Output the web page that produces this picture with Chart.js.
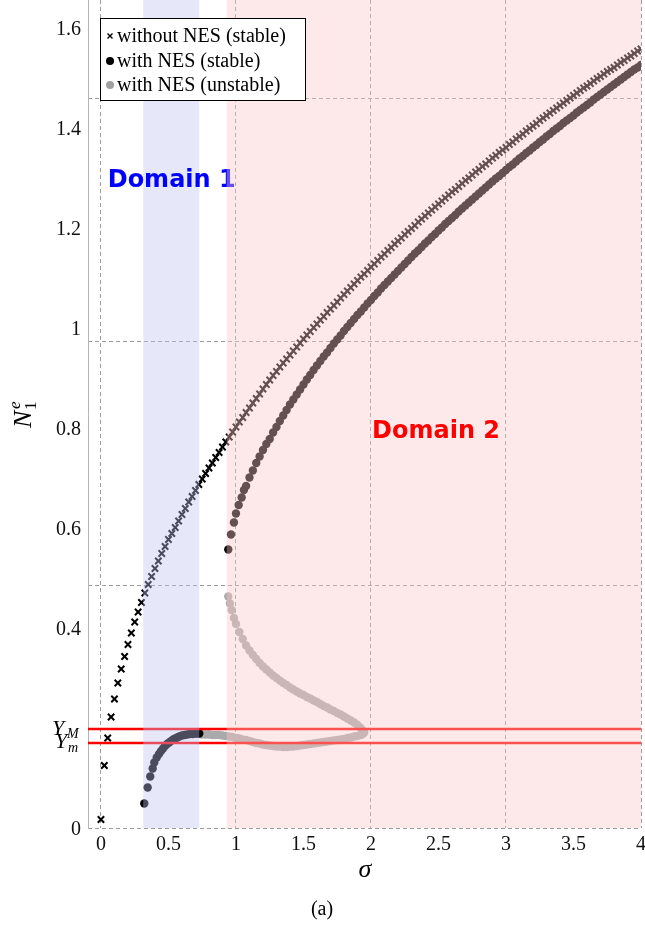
<!DOCTYPE html>
<html>
<head>
<meta charset="utf-8">
<script src="https://cdn.jsdelivr.net/npm/chart.js@4.4.0/dist/chart.umd.min.js"></script>
<style>
  html, body { margin: 0; padding: 0; background: #fff; }
  #wrap { width: 645px; height: 926px; position: relative; }
</style>
</head>
<body>
<div id="wrap"><canvas id="chart" width="645" height="926"></canvas></div>
<script>
// ---- data ----
const xTicks = [0, 0.5, 1, 1.5, 2, 2.5, 3, 3.5, 4];
const yTicks = [0, 0.4, 0.6, 0.8, 1, 1.2, 1.4, 1.6];
const yGridRows = [0, 0.486, 0.972, 1.458];
const X_MIN = -0.096, X_MAX = 4, Y_MAX = 1.656;
const Y_M = 0.198, Y_m = 0.17;
const domain1 = [0.313, 0.728];
const domain2 = [0.931, 4];

// without NES (stable)
const sigmaNoNes = [
  0, 0.025, 0.05, 0.075, 0.1, 0.125, 0.15, 0.175, 0.2, 0.225,
  0.25, 0.275, 0.3, 0.325, 0.35, 0.375, 0.4, 0.425, 0.45, 0.475,
  0.5, 0.525, 0.55, 0.575, 0.6, 0.625, 0.65, 0.675, 0.7, 0.725,
  0.75, 0.775, 0.8, 0.825, 0.85, 0.875, 0.9, 0.925, 0.95, 0.975,
  1, 1.025, 1.05, 1.075, 1.1, 1.125, 1.15, 1.175, 1.2, 1.225,
  1.25, 1.275, 1.3, 1.325, 1.35, 1.375, 1.4, 1.425, 1.45, 1.475,
  1.5, 1.525, 1.55, 1.575, 1.6, 1.625, 1.65, 1.675, 1.7, 1.725,
  1.75, 1.775, 1.8, 1.825, 1.85, 1.875, 1.9, 1.925, 1.95, 1.975,
  2, 2.025, 2.05, 2.075, 2.1, 2.125, 2.15, 2.175, 2.2, 2.225,
  2.25, 2.275, 2.3, 2.325, 2.35, 2.375, 2.4, 2.425, 2.45, 2.475,
  2.5, 2.525, 2.55, 2.575, 2.6, 2.625, 2.65, 2.675, 2.7, 2.725,
  2.75, 2.775, 2.8, 2.825, 2.85, 2.875, 2.9, 2.925, 2.95, 2.975,
  3, 3.025, 3.05, 3.075, 3.1, 3.125, 3.15, 3.175, 3.2, 3.225,
  3.25, 3.275, 3.3, 3.325, 3.35, 3.375, 3.4, 3.425, 3.45, 3.475,
  3.5, 3.525, 3.55, 3.575, 3.6, 3.625, 3.65, 3.675, 3.7, 3.725,
  3.75, 3.775, 3.8, 3.825, 3.85, 3.875, 3.9, 3.925, 3.95, 3.975,
  4
];
const nNoNes = [
  0.017, 0.125, 0.180, 0.222, 0.258, 0.290, 0.318, 0.343, 0.367, 0.390,
  0.412, 0.432, 0.451, 0.470, 0.487, 0.503, 0.519, 0.534, 0.549, 0.563,
  0.577, 0.589, 0.601, 0.614, 0.627, 0.639, 0.652, 0.663, 0.675, 0.687,
  0.698, 0.709, 0.720, 0.730, 0.741, 0.751, 0.762, 0.772, 0.782, 0.792,
  0.802, 0.812, 0.821, 0.831, 0.840, 0.850, 0.859, 0.868, 0.878, 0.887,
  0.896, 0.905, 0.913, 0.922, 0.930, 0.938, 0.946, 0.954, 0.962, 0.970,
  0.978, 0.986, 0.993, 1.001, 1.008, 1.016, 1.023, 1.031, 1.038, 1.045,
  1.052, 1.060, 1.067, 1.074, 1.081, 1.088, 1.095, 1.102, 1.108, 1.115,
  1.122, 1.128, 1.135, 1.142, 1.148, 1.155, 1.161, 1.168, 1.174, 1.180,
  1.187, 1.193, 1.199, 1.205, 1.212, 1.218, 1.224, 1.230, 1.236, 1.242,
  1.248, 1.254, 1.260, 1.266, 1.272, 1.277, 1.283, 1.289, 1.295, 1.300,
  1.306, 1.312, 1.317, 1.323, 1.328, 1.334, 1.340, 1.345, 1.351, 1.356,
  1.361, 1.367, 1.372, 1.378, 1.383, 1.388, 1.394, 1.399, 1.404, 1.409,
  1.415, 1.420, 1.425, 1.430, 1.435, 1.440, 1.445, 1.450, 1.455, 1.460,
  1.465, 1.470, 1.475, 1.480, 1.484, 1.489, 1.494, 1.499, 1.503, 1.508,
  1.513, 1.517, 1.521, 1.526, 1.531, 1.535, 1.540, 1.544, 1.549, 1.554,
  1.558
];

// with NES (stable), lower branch
const sigmaStableLow = [
  0.321, 0.346, 0.365, 0.383, 0.395, 0.413, 0.43, 0.445, 0.46, 0.475,
  0.49, 0.505, 0.52, 0.535, 0.55, 0.565, 0.58, 0.6, 0.62, 0.64,
  0.66, 0.68, 0.7, 0.715, 0.728
];
const nStableLow = [
  0.049, 0.081, 0.103, 0.119, 0.131, 0.141, 0.148, 0.154, 0.159, 0.164,
  0.168, 0.171, 0.174, 0.177, 0.179, 0.181, 0.183, 0.185, 0.186, 0.187,
  0.188, 0.188, 0.189, 0.189, 0.189
];

// with NES (stable), upper branch
const sigmaStableHigh = [
  0.943, 0.963, 0.985, 1, 1.02, 1.042, 1.059,
  1.075, 1.1, 1.125, 1.15, 1.175, 1.2, 1.225, 1.25, 1.275, 1.3,
  1.325, 1.35, 1.375, 1.4, 1.425, 1.45, 1.475, 1.5, 1.525, 1.55,
  1.575, 1.6, 1.625, 1.65, 1.675, 1.7, 1.725, 1.75, 1.775, 1.8,
  1.825, 1.85, 1.875, 1.9, 1.925, 1.95, 1.975, 2, 2.025, 2.05,
  2.075, 2.1, 2.125, 2.15, 2.175, 2.2, 2.225, 2.25, 2.275, 2.3,
  2.325, 2.35, 2.375, 2.4, 2.425, 2.45, 2.475, 2.5, 2.525, 2.55,
  2.575, 2.6, 2.625, 2.65, 2.675, 2.7, 2.725, 2.75, 2.775, 2.8,
  2.825, 2.85, 2.875, 2.9, 2.925, 2.95, 2.975, 3, 3.025, 3.05,
  3.075, 3.1, 3.125, 3.15, 3.175, 3.2, 3.225, 3.25, 3.275, 3.3,
  3.325, 3.35, 3.375, 3.4, 3.425, 3.45, 3.475, 3.5, 3.525, 3.55,
  3.575, 3.6, 3.625, 3.65, 3.675, 3.7, 3.725, 3.75, 3.775, 3.8,
  3.825, 3.85, 3.875, 3.9, 3.925, 3.95, 3.975, 4
];
const nStableHigh = [
  0.557, 0.587, 0.611, 0.629, 0.646, 0.661, 0.676,
  0.684, 0.701, 0.715, 0.730, 0.743, 0.756, 0.768, 0.778, 0.791, 0.802,
  0.814, 0.825, 0.836, 0.847, 0.857, 0.867, 0.877, 0.887, 0.897, 0.906,
  0.916, 0.925, 0.934, 0.943, 0.951, 0.960, 0.969, 0.977, 0.985, 0.994,
  1.002, 1.010, 1.018, 1.026, 1.033, 1.041, 1.049, 1.056, 1.064, 1.071,
  1.079, 1.086, 1.093, 1.100, 1.107, 1.114, 1.121, 1.128, 1.135, 1.142,
  1.149, 1.155, 1.162, 1.169, 1.175, 1.182, 1.188, 1.195, 1.201, 1.208,
  1.214, 1.220, 1.226, 1.233, 1.239, 1.245, 1.251, 1.257, 1.263, 1.269,
  1.275, 1.281, 1.287, 1.293, 1.299, 1.304, 1.310, 1.316, 1.322, 1.327,
  1.333, 1.339, 1.344, 1.350, 1.355, 1.361, 1.366, 1.372, 1.377, 1.383,
  1.388, 1.394, 1.399, 1.404, 1.410, 1.415, 1.420, 1.425, 1.431, 1.436,
  1.441, 1.446, 1.451, 1.457, 1.462, 1.467, 1.472, 1.477, 1.482, 1.487,
  1.492, 1.497, 1.502, 1.507, 1.512, 1.517, 1.521, 1.526
];

// with NES (unstable), lower branch
const sigmaUnstableLow = [
  0.75, 0.775, 0.8, 0.825, 0.85, 0.875, 0.9, 0.925, 0.95, 0.975,
  1, 1.025, 1.05, 1.075, 1.1, 1.125, 1.15, 1.175, 1.2, 1.225,
  1.25, 1.275, 1.3, 1.325, 1.35, 1.375, 1.4, 1.425, 1.45, 1.475,
  1.5, 1.525, 1.55, 1.575, 1.6, 1.625, 1.65, 1.675, 1.7, 1.725,
  1.75, 1.775, 1.8, 1.825, 1.85, 1.875, 1.9, 1.925, 1.94, 1.95
];
const nUnstableLow = [
  0.187, 0.187, 0.187, 0.186, 0.186, 0.186, 0.185, 0.184, 0.183, 0.182,
  0.180, 0.179, 0.177, 0.176, 0.174, 0.172, 0.170, 0.169, 0.167, 0.166,
  0.165, 0.164, 0.163, 0.163, 0.162, 0.162, 0.163, 0.163, 0.164, 0.165,
  0.166, 0.167, 0.168, 0.169, 0.170, 0.171, 0.172, 0.173, 0.174, 0.175,
  0.176, 0.177, 0.178, 0.180, 0.181, 0.183, 0.184, 0.186, 0.188, 0.191
];

// with NES (unstable), upper branch
const sigmaUnstableHigh = [
  1.945, 1.935, 1.92, 1.9, 1.875, 1.85, 1.825, 1.8, 1.775, 1.75,
  1.725, 1.7, 1.675, 1.65, 1.625, 1.6, 1.575, 1.55, 1.525, 1.5,
  1.475, 1.45, 1.425, 1.4, 1.375, 1.35, 1.325, 1.3, 1.275, 1.25,
  1.225, 1.2, 1.175, 1.15, 1.125, 1.1, 1.075, 1.05, 1.025, 1,
  0.985, 0.968, 0.955, 0.943
];
const nUnstableHigh = [
  0.192, 0.196, 0.201, 0.206, 0.211, 0.215, 0.219, 0.223, 0.227, 0.230,
  0.234, 0.237, 0.241, 0.244, 0.248, 0.252, 0.255, 0.259, 0.262, 0.266,
  0.269, 0.273, 0.277, 0.281, 0.286, 0.290, 0.295, 0.300, 0.305, 0.311,
  0.317, 0.323, 0.330, 0.338, 0.346, 0.355, 0.365, 0.378, 0.392, 0.408,
  0.420, 0.436, 0.449, 0.463
];

function pts(xs, ys) {
  return xs.map((x, i) => ({ x: x, y: ys[i] }));
}

const SERIF = '"Liberation Serif", "DejaVu Serif", serif';
const GRID = "#9c9c9c";

const overlay = {
  id: "overlay",
  afterDatasetsDraw(chart) {
    const { ctx, chartArea: a, scales } = chart;
    const x = scales.x, y = scales.y;
    ctx.save();
    ctx.font = 'bold 24px "DejaVu Sans", sans-serif';
    ctx.textBaseline = "alphabetic";
    ctx.textAlign = "left";
    // blue domain shading over the data, then its label
    ctx.fillStyle = "rgba(190,197,242,0.39)";
    let x1 = x.getPixelForValue(domain1[0]), x2 = x.getPixelForValue(domain1[1]);
    ctx.fillRect(x1, a.top, x2 - x1, a.bottom - a.top);
    ctx.fillStyle = "#0000ff";
    ctx.fillText("Domain 1", x.getPixelForValue(0.05), y.getPixelForValue(1.282));
    // red domain shading, then its label on top
    ctx.fillStyle = "rgba(250,200,200,0.4)";
    x1 = x.getPixelForValue(domain2[0]); x2 = x.getPixelForValue(domain2[1]);
    ctx.fillRect(x1, a.top, x2 - x1, a.bottom - a.top);
    ctx.fillStyle = "#ff0000";
    ctx.fillText("Domain 2", x.getPixelForValue(2.008), y.getPixelForValue(0.78));
    ctx.restore();
  },
  afterDraw(chart) {
    const { ctx, scales } = chart;
    const y = scales.y;
    ctx.save();

    // legend box
    const lx = 100.5, ly = 18.5, lw = 205, lh = 82;
    ctx.fillStyle = "#fff";
    ctx.fillRect(lx, ly, lw, lh);
    ctx.strokeStyle = "#000";
    ctx.lineWidth = 1;
    ctx.strokeRect(lx, ly, lw, lh);
    const rows = [36, 61, 85];
    const names = ["without NES (stable)", "with NES (stable)", "with NES (unstable)"];
    ctx.lineWidth = 1.4;
    ctx.beginPath();
    ctx.moveTo(107.5, rows[0] - 2.5); ctx.lineTo(112.5, rows[0] + 2.5);
    ctx.moveTo(112.5, rows[0] - 2.5); ctx.lineTo(107.5, rows[0] + 2.5);
    ctx.stroke();
    ctx.fillStyle = "#000";
    ctx.beginPath(); ctx.arc(110, rows[1], 4, 0, Math.PI * 2); ctx.fill();
    ctx.fillStyle = "#a0a0a0";
    ctx.beginPath(); ctx.arc(110, rows[2], 4, 0, Math.PI * 2); ctx.fill();
    ctx.fillStyle = "#000";
    ctx.font = "20px " + SERIF;
    ctx.textBaseline = "middle";
    names.forEach((n, i) => ctx.fillText(n, 117, rows[i] + 1));

    // Y_M / Y_m labels on the y axis
    ctx.textBaseline = "alphabetic";
    const yM = y.getPixelForValue(Y_M), ym = y.getPixelForValue(Y_m);
    ctx.font = "italic 22px " + SERIF;
    ctx.fillText("Y", 52, yM + 6);
    ctx.fillText("Y", 55, ym + 5);
    ctx.font = "italic 14px " + SERIF;
    ctx.fillText("M", 67, yM + 9);
    ctx.fillText("m", 68, ym + 9);

    // y title N_1^e (rotated)
    ctx.save();
    ctx.translate(31, 413);
    ctx.rotate(-Math.PI / 2);
    ctx.font = "italic 26px " + SERIF;
    ctx.fillText("N", -15, 0);
    ctx.font = "17px " + SERIF;
    ctx.fillText("1", 3, 5);
    ctx.font = "italic 17px " + SERIF;
    ctx.fillText("e", 4, -11);
    ctx.restore();

    // x title and caption
    ctx.textAlign = "center";
    ctx.font = "italic 26px " + SERIF;
    ctx.fillText("\u03c3", 365, 877);
    ctx.font = "20px " + SERIF;
    ctx.fillText("(a)", 322, 915);
    ctx.restore();
  }
};

new Chart(document.getElementById("chart"), {
  type: "scatter",
  data: {
    datasets: [
      {
        label: "Y_M",
        data: pts([X_MIN, X_MAX], [Y_M, Y_M]),
        showLine: true, borderColor: "#ff0000", borderWidth: 2.5,
        pointRadius: 0, clip: 0
      },
      {
        label: "Y_m",
        data: pts([X_MIN, X_MAX], [Y_m, Y_m]),
        showLine: true, borderColor: "#ff0000", borderWidth: 2.5,
        pointRadius: 0, clip: 0
      },
      {
        label: "without NES (stable)",
        data: pts(sigmaNoNes, nNoNes),
        pointStyle: "crossRot", pointRadius: 4.5, borderWidth: 2,
        borderColor: "#000", backgroundColor: "#000", clip: 0
      },
      {
        label: "with NES (stable)",
        data: pts(sigmaStableLow, nStableLow).concat(pts(sigmaStableHigh, nStableHigh)),
        pointStyle: "circle", pointRadius: 4.2, borderWidth: 0,
        backgroundColor: "#000", clip: 0
      },
      {
        label: "with NES (unstable)",
        data: pts(sigmaUnstableLow, nUnstableLow).concat(pts(sigmaUnstableHigh, nUnstableHigh)),
        pointStyle: "circle", pointRadius: 4.2, borderWidth: 0,
        backgroundColor: "#aaaaaa", clip: 0
      }
    ]
  },
  options: {
    responsive: false,
    animation: false,
    devicePixelRatio: 1,
    layout: { autoPadding: false, padding: { left: 0, right: 4, top: 0, bottom: 0 } },
    plugins: { legend: { display: false }, tooltip: { enabled: false } },
    scales: {
      x: {
        type: "linear", min: X_MIN, max: X_MAX,
        afterBuildTicks: (s) => { s.ticks = xTicks.map((v) => ({ value: v })); },
        afterFit: (s) => { s.height = 98; s.paddingLeft = 0; s.paddingRight = 0; },
        grid: {
          color: (c) => (c.tick && Number.isInteger(c.tick.value) ? GRID : "rgba(0,0,0,0)"),
          drawTicks: false, lineWidth: 1
        },
        border: { display: false, dash: [4, 3] },
        ticks: {
          padding: 5, autoSkip: false, maxRotation: 0, color: "#111",
          font: { family: SERIF, size: 20 },
          callback: (v) => String(v)
        }
      },
      y: {
        type: "linear", position: "left", min: 0, max: Y_MAX,
        afterBuildTicks: (s) => { s.ticks = yTicks.map((v) => ({ value: v })); },
        afterFit: (s) => { s.width = 88; s.paddingTop = 0; s.paddingBottom = 0; },
        grid: { color: "rgba(0,0,0,0)", drawTicks: false },
        border: { display: true, color: "#b4b4b4", width: 1 },
        ticks: {
          padding: 7, autoSkip: false, color: "#111", labelOffset: 2,
          font: { family: SERIF, size: 20 },
          callback: (v) => String(v)
        }
      },
      yGrid: {
        type: "linear", position: "left", min: 0, max: Y_MAX,
        afterBuildTicks: (s) => { s.ticks = yGridRows.map((v) => ({ value: v })); },
        afterFit: (s) => { s.width = 0; s.paddingTop = 0; s.paddingBottom = 0; },
        grid: { color: GRID, drawTicks: false, lineWidth: 1 },
        border: { display: false, dash: [4, 3] },
        ticks: { display: false }
      }
    }
  },
  plugins: [overlay]
});
</script>
</body>
</html>
